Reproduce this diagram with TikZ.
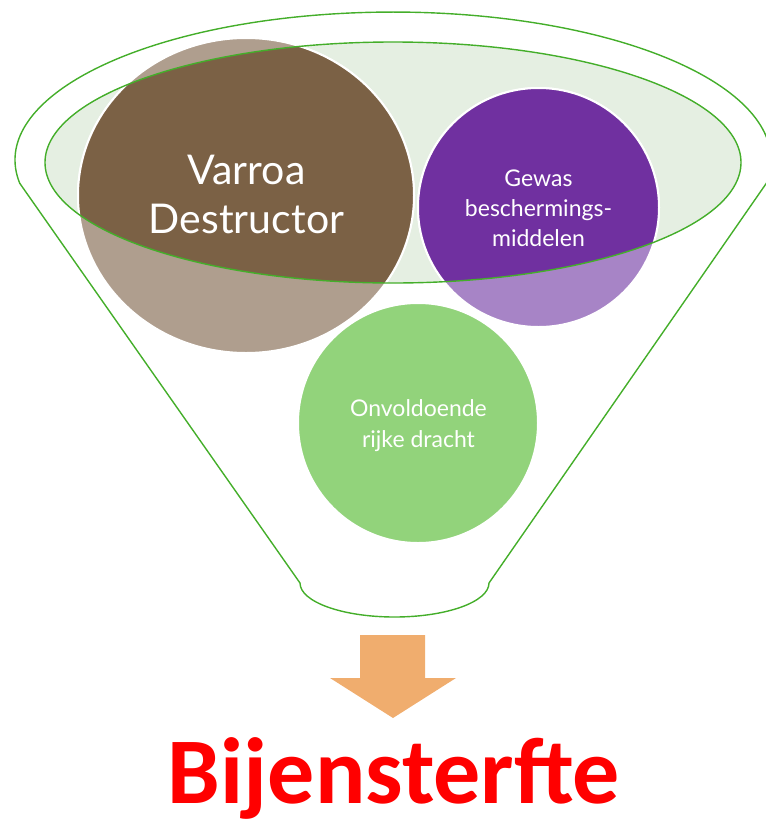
\documentclass[tikz,border=0pt]{standalone}
\usepackage{fontspec}
\setmainfont{Lato}
\newfontfamily\titlefont{Carlito}
\definecolor{innerfill}{HTML}{E5EFE2}
\definecolor{funnelgreen}{HTML}{44AE2A}
\definecolor{darkbrown}{HTML}{7B6145}
\definecolor{lightbrown}{HTML}{AF9E8E}
\definecolor{darkpurple}{HTML}{7030A0}
\definecolor{lightpurple}{HTML}{A784C6}
\definecolor{lightgreen}{HTML}{92D37B}
\definecolor{arroworange}{HTML}{F0AD6E}
\tikzset{
  bubble/.style={draw=white, line width=2},
  outline/.style={draw=funnelgreen, line width=1.4},
  bigtxt/.style={text=white, anchor=base, inner sep=0, font=\fontsize{41}{49}\selectfont},
  smalltxt/.style={text=white, anchor=base, inner sep=0, font=\fontsize{23}{30}\selectfont},
}
\begin{document}
\begin{tikzpicture}[x=1pt,y=-1pt]
\useasboundingbox (0,0) rectangle (766,828);
% inner ellipse fill
\path[fill=innerfill] (393,162.5) ellipse [x radius=348, y radius=120.5];
% light (outside) parts of the bubbles
\path[bubble, fill=lightbrown] (246,195.5) ellipse [x radius=168, y radius=157.5];
\path[bubble, fill=lightpurple] (538.5,207.5) ellipse [x radius=120.5, y radius=119.5];
\path[bubble, fill=lightgreen] (418,423) circle [radius=120];
% dark (inside ellipse) parts
\begin{scope}
  \clip (393,162.5) ellipse [x radius=348, y radius=120.5];
  \path[bubble, fill=darkbrown] (246,195.5) ellipse [x radius=168, y radius=157.5];
  \path[bubble, fill=darkpurple] (538.5,207.5) ellipse [x radius=120.5, y radius=119.5];
\end{scope}
% inner ellipse outline
\path[outline] (393,162.5) ellipse [x radius=348, y radius=120.5];
% funnel outline
\path[outline] (300,583) -- (19.7,183.2)
  arc [start angle=171, end angle=369, x radius=378, y radius=148]
  -- (489,583)
  arc [start angle=0, end angle=180, x radius=94.5, y radius=34] -- cycle;
% arrow
\fill[arroworange] (360,635) -- (425,635) -- (425,678) -- (456,678) -- (393,718)
  -- (330,678) -- (360,678) -- cycle;
% texts
\node[bigtxt] (varroaA) at (246.5,184) {Varroa};
\node[bigtxt] (varroaB) at (246.5,233) {Destructor};
\node[smalltxt] (gewasA) at (538.5,186) {Gewas};
\node[smalltxt] (gewasB) at (538.5,216) {beschermings-};
\node[smalltxt] (gewasC) at (538.5,246) {middelen};
\node[smalltxt] (onvA) at (418.5,416) {Onvoldoende};
\node[smalltxt] (onvB) at (418.5,447) {rijke dracht};
\node[anchor=base, inner sep=0, text=red, font=\titlefont\bfseries\fontsize{94}{100}\selectfont] (title) at (394,803) {Bijensterfte};
\end{tikzpicture}
\end{document}
